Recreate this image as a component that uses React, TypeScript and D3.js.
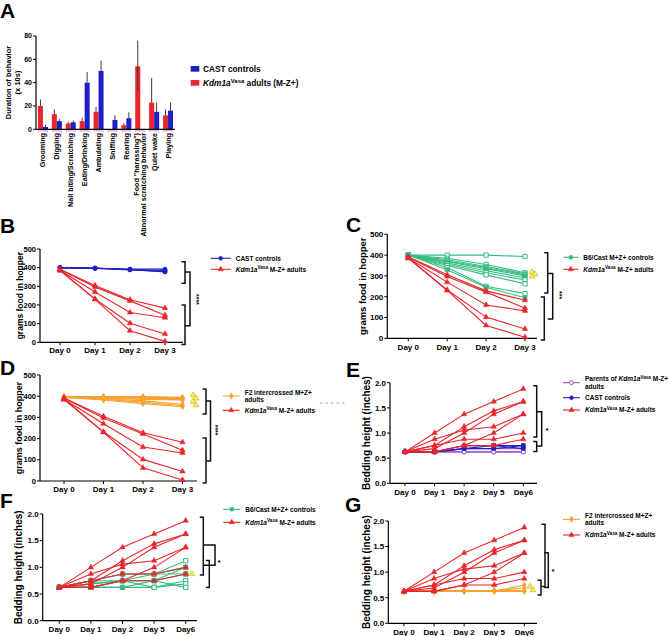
import React from 'react';
import * as d3 from 'd3';

const FONT = '"Liberation Sans", Arial, Helvetica, sans-serif';
const RED = '#e8262b';
const BLUE = '#1f1fc4';
const GREEN = '#35bb82';
const ORANGE = '#f5a232';
const PURPLE = '#9d55c4';
const YELLOW = '#d8c800';

// ---------- Panel A data ----------
const behaviorLabels: string[][] = [
  ['Grooming'], ['Digging'], ['Nail biting/Scratching'], ['Eating/Drinking'], ['Ambulating'],
  ['Sniffing'], ['Rearing'], ['Food "harassing")', 'Abnormal scratching behavior'], ['Quiet wake'], ['Playing'],
];
const kdmBehavior = [20, 13, 5, 7, 15, 0, 3.5, 54, 23, 12];
const kdmBehaviorErrUp = [5.5, 4, 1.5, 3, 4, 0, 1.5, 22, 21, 5];
const kdmBehaviorErrDown = [0, 0, 0, 0, 0, 0, 0, 21, 0, 0];
const castBehavior = [2, 7, 6, 40, 50, 8, 9.5, 0, 15, 16];
const castBehaviorErrUp = [2, 2, 1.5, 9, 9, 4, 5, 0, 8, 7];
const behaviorTicks = [0, 20, 40, 60, 80];

// ---------- Food hopper data (B, C, D) ----------
const foodDays = ['Day 0', 'Day 1', 'Day 2', 'Day 3'];
const foodTicks = [0, 100, 200, 300, 400, 500];
const kdmFood = [
  [392, 305, 228, 183],
  [390, 297, 222, 145],
  [386, 270, 160, 132],
  [384, 232, 102, 45],
  [388, 230, 62, 5],
];
const castFood = [
  [400, 397, 392, 392],
  [400, 398, 390, 385],
  [399, 396, 388, 380],
  [400, 397, 390, 377],
];
const b6Food = [
  [400, 400, 400, 393],
  [400, 385, 355, 315],
  [400, 378, 345, 310],
  [400, 372, 340, 305],
  [400, 368, 335, 300],
  [400, 362, 325, 290],
  [400, 356, 315, 280],
  [400, 350, 305, 262],
  [400, 340, 250, 215],
  [400, 330, 245, 195],
];
const b6FoodHollow = [true, true, false, true, false, false, true, true, true, false];
const f2Food = [
  [398, 398, 398, 395],
  [397, 397, 396, 392],
  [398, 396, 394, 390],
  [396, 395, 393, 388],
  [397, 394, 392, 386],
  [398, 393, 390, 384],
  [397, 390, 385, 382],
  [396, 388, 378, 362],
  [395, 385, 372, 355],
  [394, 382, 365, 350],
];

// ---------- Bedding data (E, F, G) ----------
const bedDays = ['Day 0', 'Day 1', 'Day 2', 'Day 5', 'Day6'];
const bedTicks = [0, 0.5, 1, 1.5, 2];
const kdmBed = [
  [0.625, 1.0, 1.375, 1.625, 1.875],
  [0.625, 0.75, 1.125, 1.44, 1.625],
  [0.625, 0.69, 1.0, 1.375, 1.625],
  [0.625, 0.875, 1.06, 1.125, 1.375],
  [0.625, 0.625, 0.75, 1.0, 1.375],
  [0.625, 0.75, 0.875, 0.875, 1.0],
  [0.625, 0.625, 0.75, 0.75, 0.875],
];
const parentsBed = [
  [0.625, 0.625, 0.625, 0.625, 0.625],
  [0.625, 0.625, 0.625, 0.625, 0.625],
  [0.625, 0.625, 0.69, 0.69, 0.69],
];
const castBed = [
  [0.625, 0.625, 0.75, 0.75, 0.75],
  [0.625, 0.625, 0.69, 0.75, 0.69],
  [0.625, 0.625, 0.69, 0.69, 0.75],
];
const b6Bed = [
  [0.625, 0.75, 0.875, 0.875, 1.125],
  [0.625, 0.75, 0.875, 0.875, 1.0],
  [0.625, 0.69, 0.75, 0.875, 0.875],
  [0.625, 0.75, 0.75, 0.75, 0.875],
  [0.625, 0.625, 0.75, 0.625, 0.75],
  [0.625, 0.625, 0.625, 0.625, 0.69],
  [0.625, 0.69, 0.75, 0.75, 0.625],
  [0.625, 0.625, 0.625, 0.75, 1.0],
];
const b6BedHollow = [true, false, true, false, true, true, true, false];
const f2Bed = [
  [0.625, 0.625, 0.625, 0.625, 0.625],
  [0.625, 0.625, 0.625, 0.625, 0.75],
  [0.625, 0.64, 0.64, 0.64, 0.64],
  [0.625, 0.625, 0.64, 0.64, 0.69],
];

const symbols: Record<string, d3.SymbolType> = {
  triangle: d3.symbolTriangle,
  circle: d3.symbolCircle,
  square: d3.symbolSquare,
  diamond: d3.symbolDiamond,
};

function Marker({ shape, x, y, color, hollow, size }: any) {
  const d = d3.symbol(symbols[shape], size)() as string;
  return (
    <path d={d} transform={`translate(${x},${y})`} fill={hollow ? '#fff' : color}
      stroke={color} strokeWidth={hollow ? 1 : 0.5} />
  );
}

function KdmLabel({ suffix, fs }: any) {
  return (
    <>
      <tspan fontStyle="italic">Kdm1a</tspan>
      <tspan dy={-fs * 0.4} fontSize={fs * 0.72}>Vasa</tspan>
      <tspan dy={fs * 0.4}>{suffix}</tspan>
    </>
  );
}

function Bracket({ x, a, b, w = 3.5 }: any) {
  return <path d={`M${x - w},${a}H${x}V${b}H${x - w}`} fill="none" stroke="#111" strokeWidth={1.5} />;
}

function LinePanel(p: any) {
  const y = d3.scaleLinear().domain([0, p.yMax]).range([p.y0, p.yTop]);
  const x = d3.scalePoint<string>().domain(p.cats).range([p.xFirst, p.xLast]);
  const line = d3.line<number>().x((_, i) => x(p.cats[i]) as number).y((v) => y(v));
  return (
    <g fontFamily={FONT} fontWeight="bold">
      <text x={p.letterX} y={p.letterY} fontSize={21}>{p.letter}</text>
      <line x1={p.axisX} x2={p.axisX} y1={y(p.yMax)} y2={p.y0} stroke="#000" strokeWidth={1.2} />
      <line x1={p.axisX} x2={p.xEnd} y1={p.y0} y2={p.y0} stroke="#000" strokeWidth={1.2} />
      {p.ticks.map((t: number) => (
        <g key={t}>
          <line x1={p.axisX - 3} x2={p.axisX} y1={y(t)} y2={y(t)} stroke="#000" />
          <text x={p.axisX - 4} y={y(t)} dy="0.35em" textAnchor="end" fontSize={p.tickSize}>{p.fmt(t)}</text>
        </g>
      ))}
      {p.cats.map((c: string) => (
        <g key={c}>
          <line x1={x(c)} x2={x(c)} y1={p.y0} y2={p.y0 + 3} stroke="#000" />
          <text x={x(c)} y={p.y0 + p.xLabelDy} textAnchor="middle" fontSize={8}>{c}</text>
        </g>
      ))}
      <text transform={`translate(${p.ylabelX},${(y(p.yMax) + p.y0) / 2}) rotate(-90)`}
        textAnchor="middle" fontSize={p.ylabelSize}>{p.ylabel}</text>
      {p.series.map((s: any, si: number) => (
        <g key={si}>
          {s.data.map((row: number[], ri: number) => (
            <path key={ri} d={line(row) as string} fill="none" stroke={s.color} strokeWidth={1.1} />
          ))}
          {s.data.map((row: number[], ri: number) =>
            row.map((v, i) => (
              <Marker key={`${ri}-${i}`} shape={s.shape} x={x(p.cats[i])} y={y(v)} color={s.color}
                hollow={Array.isArray(s.hollow) ? s.hollow[ri] : s.hollow} size={s.size} />
            ))
          )}
        </g>
      ))}
      {p.yellow && p.yellow.vs.map((v: number, i: number) => (
        <path key={i} d={d3.symbol(d3.symbolTriangle, 14)() as string}
          transform={`translate(${p.yellow.x + (i % 2) * 3},${y(v)})`} fill="#f4ee9a" stroke={YELLOW} strokeWidth={0.9} />
      ))}
      {p.brackets.map((b: any, i: number) => (
        <Bracket key={i} x={b.x} a={y(b.a)} b={y(b.b)} w={b.w} />
      ))}
      {p.star && (
        p.star.rotate ? (
          <text transform={`translate(${p.star.x},${y(p.star.v)}) rotate(90)`} textAnchor="middle"
            dy="0.35em" fontSize={7}>{p.star.text}</text>
        ) : (
          <text x={p.star.x} y={y(p.star.v)} dy="0.5em" fontSize={8}>{p.star.text}</text>
        )
      )}
      {p.legend.items.map((it: any, i: number) => (
        <g key={i}>
          <line x1={p.legend.x} x2={p.legend.x + p.legend.w} y1={it.y} y2={it.y} stroke={it.color} strokeWidth={1.1} />
          <Marker shape={it.shape} x={p.legend.x + p.legend.w / 2} y={it.y} color={it.color} hollow={it.hollow} size={12} />
          {it.lines.map((ln: any, li: number) => (
            <text key={li} x={p.legend.x + p.legend.w + 5} y={it.y + 2.3 + li * 7.5 - (it.lines.length - 1) * 3.8}
              fontSize={6.5}>{ln}</text>
          ))}
        </g>
      ))}
    </g>
  );
}

function PanelA() {
  const y = d3.scaleLinear().domain([0, 80]).range([129.3, 36]);
  const band = d3.scaleBand<number>().domain(d3.range(behaviorLabels.length)).range([36, 175])
    .paddingInner(0.28).paddingOuter(0.14);
  const bw = band.bandwidth() / 2;
  return (
    <g fontFamily={FONT} fontWeight="bold">
      <text x={0} y={18} fontSize={21}>A</text>
      {behaviorLabels.map((_, i) => {
        const x0 = band(i) as number;
        return (
          <g key={i}>
            <rect x={x0} y={y(kdmBehavior[i])} width={bw} height={y(0) - y(kdmBehavior[i])} fill={RED} />
            <rect x={x0 + bw} y={y(castBehavior[i])} width={bw} height={y(0) - y(castBehavior[i])} fill={BLUE} />
            {kdmBehaviorErrUp[i] > 0 && (
              <line x1={x0 + bw / 2} x2={x0 + bw / 2} y1={y(kdmBehavior[i] + kdmBehaviorErrUp[i])}
                y2={y(kdmBehavior[i] - kdmBehaviorErrDown[i])} stroke="#3a3a3a" strokeWidth={1} />
            )}
            {castBehaviorErrUp[i] > 0 && (
              <line x1={x0 + bw * 1.5} x2={x0 + bw * 1.5} y1={y(castBehavior[i] + castBehaviorErrUp[i])}
                y2={y(castBehavior[i])} stroke="#3a3a3a" strokeWidth={1} />
            )}
            <path d={`M${x0 + 0.5},${y(0) + 3}V${y(0) + 1.5}H${x0 + 2 * bw - 0.5}V${y(0) + 3}`} fill="none"
              stroke="#c9a6dc" strokeWidth={1} />
          </g>
        );
      })}
      <line x1={36} x2={36} y1={36} y2={129.3} stroke="#000" strokeWidth={1.2} />
      <line x1={36} x2={175} y1={129.3} y2={129.3} stroke="#000" strokeWidth={1.2} />
      {behaviorTicks.map((t) => (
        <g key={t}>
          <line x1={33} x2={36} y1={y(t)} y2={y(t)} stroke="#000" />
          <text x={32} y={y(t)} dy="0.35em" textAnchor="end" fontSize={7}>{t}</text>
        </g>
      ))}
      {behaviorLabels.map((lab, i) => {
        const cx = (band(i) as number) + band.bandwidth() / 2;
        return lab.map((ln, li) => (
          <text key={`${i}-${li}`} transform={`translate(${cx + (li - (lab.length - 1) / 2) * 7.4},133) rotate(-90)`}
            textAnchor="end" dy="0.35em" fontSize={7.2}>{ln}</text>
        ));
      })}
      <text transform="translate(10.5,82.5) rotate(-90)" textAnchor="middle" fontSize={7.5}>Duration of behavior</text>
      <text transform="translate(19.5,82.5) rotate(-90)" textAnchor="middle" fontSize={7.5}>(x 10s)</text>
      <rect x={190.7} y={66} width={8.6} height={5.7} fill={BLUE} />
      <text x={203} y={72} fontSize={8.3}>CAST controls</text>
      <rect x={190.7} y={80} width={8.6} height={5.7} fill={RED} />
      <text x={203} y={86} fontSize={8.3}><KdmLabel suffix=" adults (M-Z+)" fs={8.3} /></text>
    </g>
  );
}

const fmtFood = d3.format('d');
const fmtBed = d3.format('.1f');

export default function App() {
  const kdmFoodSeries = { data: kdmFood, color: RED, shape: 'triangle', size: 13 };
  const kdmBedSeries = { data: kdmBed, color: RED, shape: 'triangle', size: 13 };
  const kdmLegend = (y: number) => ({ y, color: RED, shape: 'triangle', lines: [<KdmLabel key="k" suffix=" M-Z+ adults" fs={6.5} />] });
  return (
    <svg width={669} height={636} style={{ position: 'absolute', left: 0, top: 0, background: '#fff' }}>
      <rect width={669} height={636} fill="#fff" />
      <PanelA />
      {/* B */}
      <LinePanel letter="B" letterX={0} letterY={233} axisX={40} y0={342.3} yTop={249} yMax={500}
        ticks={foodTicks} fmt={fmtFood} tickSize={7.5} cats={foodDays} xFirst={60} xLast={165} xEnd={183}
        xLabelDy={10.8} ylabel="grams food in hopper" ylabelX={23} ylabelSize={8.5}
        series={[{ data: castFood, color: BLUE, shape: 'circle', size: 14 }, kdmFoodSeries]}
        brackets={[{ x: 185, a: 432, b: 316 }, { x: 185, a: 200, b: -12 }, { x: 190, a: 377, b: 89, w: 5 }]}
        star={{ x: 196.5, v: 230, text: '****', rotate: true }}
        legend={{ x: 210.7, w: 20, items: [{ y: 258.3, color: BLUE, shape: 'circle', lines: ['CAST controls'] }, kdmLegend(269.3)] }} />
      {/* C */}
      <LinePanel letter="C" letterX={346} letterY={232} axisX={387.3} y0={338.3} yTop={234.3} yMax={500}
        ticks={foodTicks} fmt={fmtFood} tickSize={8} cats={foodDays} xFirst={408.3} xLast={525} xEnd={537}
        xLabelDy={12} ylabel="grams food in hopper" ylabelX={366} ylabelSize={9.5}
        series={[{ data: b6Food, color: GREEN, shape: 'square', size: 18, hollow: b6FoodHollow }, kdmFoodSeries]}
        yellow={{ x: 532, vs: [318, 308, 298] }}
        brackets={[{ x: 547.7, a: 411, b: 218 }, { x: 544.3, a: 198, b: -8 }, { x: 552.7, a: 312, b: 93, w: 5 }]}
        star={{ x: 559.3, v: 208, text: '***', rotate: true }}
        legend={{ x: 563.3, w: 15, items: [{ y: 257.3, color: GREEN, shape: 'square', lines: ['B6/Cast M+Z+ controls'] }, kdmLegend(269.3)] }} />
      {/* D */}
      <LinePanel letter="D" letterX={0} letterY={375} axisX={40} y0={481} yTop={375} yMax={500}
        ticks={foodTicks} fmt={fmtFood} tickSize={7.5} cats={foodDays} xFirst={64} xLast={182.5} xEnd={197}
        xLabelDy={11} ylabel="grams food in hopper" ylabelX={22} ylabelSize={9}
        series={[{ data: f2Food, color: ORANGE, shape: 'diamond', size: 12 }, kdmFoodSeries]}
        yellow={{ x: 193, vs: [405, 390, 375, 358] }}
        brackets={[{ x: 206, a: 434, b: 316 }, { x: 206, a: 203, b: -9 }, { x: 210.5, a: 377, b: 94, w: 4.5 }]}
        star={{ x: 215.5, v: 240, text: '****', rotate: true }}
        legend={{ x: 222.7, w: 17, items: [{ y: 396, color: ORANGE, shape: 'diamond', lines: ['F2 intercrossed M+Z+', 'adults'] }, kdmLegend(410.3)] }} />
      <line x1={320} x2={345} y1={403} y2={403} stroke="#888" strokeWidth={0.8} strokeDasharray="2.5,3" />
      {/* E */}
      <LinePanel letter="E" letterX={346} letterY={377} axisX={390} y0={483.3} yTop={382.7} yMax={2}
        ticks={bedTicks} fmt={fmtBed} tickSize={8} cats={bedDays} xFirst={405} xLast={523.3} xEnd={537}
        xLabelDy={11.5} ylabel="Bedding height (inches)" ylabelX={370} ylabelSize={10}
        series={[
          { data: parentsBed, color: PURPLE, shape: 'circle', size: 14, hollow: true },
          { data: castBed, color: BLUE, shape: 'square', size: 14 },
          kdmBedSeries,
        ]}
        brackets={[{ x: 536.7, a: 1.94, b: 0.92 }, { x: 536.7, a: 0.83, b: 0.63 }, { x: 541.7, a: 1.42, b: 0.74, w: 5 }]}
        star={{ x: 545.5, v: 1.07, text: '*' }}
        legend={{ x: 563, w: 17, items: [
          { y: 382.7, color: PURPLE, shape: 'circle', hollow: true, lines: [<><tspan>Parents of </tspan><KdmLabel suffix=" M-Z+" fs={6.5} /></>, 'adults'] },
          { y: 397.7, color: BLUE, shape: 'circle', lines: ['CAST controls'] },
          kdmLegend(410),
        ] }} />
      {/* F */}
      <LinePanel letter="F" letterX={0} letterY={508} axisX={42.7} y0={620.7} yTop={514} yMax={2}
        ticks={bedTicks} fmt={fmtBed} tickSize={8} cats={bedDays} xFirst={59.3} xLast={185.7} xEnd={197}
        xLabelDy={11.5} ylabel="Bedding height (inches)" ylabelX={22} ylabelSize={10}
        series={[{ data: b6Bed, color: GREEN, shape: 'square', size: 18, hollow: b6BedHollow }, kdmBedSeries]}
        yellow={{ x: 192, vs: [0.875] }}
        brackets={[{ x: 203.3, a: 1.94, b: 0.855 }, { x: 209.3, a: 1.13, b: 0.62 }, { x: 215, a: 1.42, b: 1.04, w: 11 }]}
        star={{ x: 217.5, v: 1.12, text: '*' }}
        legend={{ x: 223.3, w: 17, items: [{ y: 509.3, color: GREEN, shape: 'square', lines: ['B6/Cast M+Z+ controls'] }, kdmLegend(522.3)] }} />
      {/* G */}
      <LinePanel letter="G" letterX={345} letterY={512} axisX={388.3} y0={623.3} yTop={521} yMax={2}
        ticks={bedTicks} fmt={fmtBed} tickSize={8} cats={bedDays} xFirst={404} xLast={524.3} xEnd={537}
        xLabelDy={11.5} ylabel="Bedding height (inches)" ylabelX={370} ylabelSize={10}
        series={[{ data: f2Bed, color: ORANGE, shape: 'diamond', size: 12 }, kdmBedSeries]}
        yellow={{ x: 530, vs: [0.72, 0.65] }}
        brackets={[{ x: 545, a: 1.935, b: 0.72 }, { x: 541, a: 0.84, b: 0.555 }, { x: 548.3, a: 1.38, b: 0.7, w: 4 }]}
        star={{ x: 551.5, v: 1.04, text: '*' }}
        legend={{ x: 563, w: 17, items: [{ y: 519.3, color: ORANGE, shape: 'diamond', lines: ['F2 intercrossed M+Z+', 'adults'] }, kdmLegend(535)] }} />
    </svg>
  );
}
